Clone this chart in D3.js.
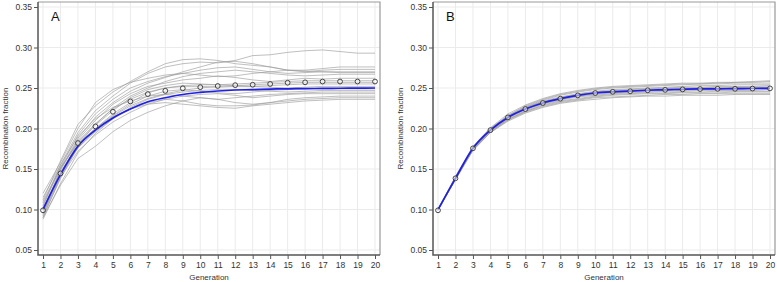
<!DOCTYPE html>
<html>
<head>
<meta charset="utf-8">
<script src="https://cdn.jsdelivr.net/npm/d3@7"></script>
<style>
  body { margin: 0; background: #fff; }
  svg { display: block; font-family: "Liberation Sans", Arial, sans-serif; }
</style>
</head>
<body>
<div id="chart"></div>
<script>
const generations = d3.range(1, 21);
const yTicks = [0.05, 0.10, 0.15, 0.20, 0.25, 0.30, 0.35];

// panel A: simulated replicates (grey), observed mean (circles), expected (blue)
const simA = [
  [0.105, 0.155, 0.195, 0.222, 0.240, 0.256, 0.268, 0.276, 0.280, 0.282, 0.281, 0.284, 0.290, 0.291, 0.294, 0.296, 0.297, 0.295, 0.293, 0.293],
  [0.112, 0.160, 0.205, 0.228, 0.245, 0.258, 0.270, 0.280, 0.285, 0.286, 0.284, 0.280, 0.278, 0.276, 0.272, 0.272, 0.274, 0.276, 0.276, 0.276],
  [0.095, 0.150, 0.188, 0.214, 0.232, 0.246, 0.256, 0.263, 0.270, 0.276, 0.282, 0.283, 0.280, 0.276, 0.272, 0.270, 0.272, 0.273, 0.273, 0.273],
  [0.120, 0.158, 0.200, 0.232, 0.248, 0.257, 0.262, 0.266, 0.268, 0.266, 0.264, 0.265, 0.268, 0.270, 0.272, 0.271, 0.270, 0.269, 0.269, 0.269],
  [0.090, 0.140, 0.180, 0.205, 0.225, 0.240, 0.250, 0.258, 0.264, 0.268, 0.270, 0.272, 0.270, 0.268, 0.266, 0.265, 0.266, 0.267, 0.267, 0.267],
  [0.100, 0.148, 0.186, 0.210, 0.230, 0.243, 0.252, 0.256, 0.260, 0.262, 0.265, 0.263, 0.260, 0.258, 0.260, 0.262, 0.261, 0.262, 0.262, 0.262],
  [0.098, 0.144, 0.183, 0.204, 0.222, 0.238, 0.248, 0.253, 0.256, 0.255, 0.254, 0.255, 0.256, 0.257, 0.258, 0.259, 0.259, 0.259, 0.259, 0.259],
  [0.092, 0.138, 0.178, 0.200, 0.218, 0.232, 0.244, 0.250, 0.253, 0.254, 0.254, 0.253, 0.254, 0.255, 0.256, 0.257, 0.257, 0.257, 0.257, 0.257],
  [0.108, 0.150, 0.184, 0.206, 0.224, 0.236, 0.245, 0.250, 0.252, 0.252, 0.251, 0.252, 0.252, 0.253, 0.254, 0.255, 0.255, 0.255, 0.255, 0.255],
  [0.094, 0.142, 0.176, 0.198, 0.215, 0.228, 0.237, 0.243, 0.247, 0.250, 0.252, 0.253, 0.252, 0.251, 0.250, 0.251, 0.252, 0.252, 0.252, 0.252],
  [0.100, 0.146, 0.180, 0.200, 0.216, 0.230, 0.240, 0.246, 0.248, 0.246, 0.244, 0.243, 0.245, 0.247, 0.248, 0.249, 0.249, 0.249, 0.249, 0.249],
  [0.088, 0.132, 0.170, 0.194, 0.212, 0.226, 0.236, 0.242, 0.245, 0.247, 0.248, 0.248, 0.247, 0.246, 0.245, 0.246, 0.247, 0.247, 0.247, 0.247],
  [0.115, 0.155, 0.190, 0.212, 0.226, 0.234, 0.240, 0.242, 0.240, 0.238, 0.236, 0.238, 0.240, 0.242, 0.243, 0.244, 0.245, 0.245, 0.245, 0.245],
  [0.096, 0.140, 0.172, 0.192, 0.208, 0.220, 0.230, 0.236, 0.240, 0.242, 0.243, 0.241, 0.238, 0.240, 0.242, 0.243, 0.243, 0.243, 0.243, 0.243],
  [0.102, 0.145, 0.176, 0.196, 0.212, 0.224, 0.232, 0.236, 0.234, 0.230, 0.228, 0.228, 0.229, 0.232, 0.236, 0.238, 0.239, 0.240, 0.240, 0.240],
  [0.090, 0.130, 0.163, 0.178, 0.196, 0.210, 0.220, 0.228, 0.234, 0.238, 0.236, 0.232, 0.230, 0.232, 0.234, 0.236, 0.237, 0.238, 0.238, 0.238],
  [0.110, 0.152, 0.182, 0.200, 0.214, 0.224, 0.230, 0.232, 0.230, 0.228, 0.226, 0.225, 0.228, 0.230, 0.232, 0.234, 0.235, 0.236, 0.236, 0.236],
  [0.104, 0.152, 0.192, 0.218, 0.236, 0.250, 0.258, 0.264, 0.268, 0.272, 0.275, 0.276, 0.273, 0.270, 0.268, 0.269, 0.270, 0.270, 0.270, 0.270]
];
const meanA = [0.099, 0.1445, 0.182, 0.2026, 0.2207, 0.2335, 0.2425, 0.2465, 0.2496, 0.251, 0.2525, 0.2535, 0.254, 0.255, 0.2565, 0.257, 0.258, 0.258, 0.258, 0.258];
const expectedA = [0.100, 0.143, 0.178, 0.198, 0.213, 0.224, 0.233, 0.238, 0.242, 0.2445, 0.2463, 0.2475, 0.248, 0.2487, 0.249, 0.2493, 0.2495, 0.2497, 0.2498, 0.250];

// panel B
const simB = [
  [0.100, 0.141, 0.178, 0.201, 0.218, 0.229, 0.237, 0.243, 0.247, 0.250, 0.252, 0.253, 0.254, 0.255, 0.256, 0.256, 0.257, 0.257, 0.257, 0.258],
  [0.099, 0.140, 0.177, 0.200, 0.216, 0.227, 0.235, 0.241, 0.245, 0.248, 0.250, 0.251, 0.252, 0.253, 0.254, 0.255, 0.255, 0.256, 0.256, 0.256],
  [0.100, 0.139, 0.176, 0.199, 0.215, 0.226, 0.234, 0.239, 0.243, 0.246, 0.248, 0.249, 0.250, 0.251, 0.252, 0.253, 0.253, 0.254, 0.254, 0.254],
  [0.099, 0.139, 0.176, 0.198, 0.214, 0.225, 0.233, 0.238, 0.242, 0.245, 0.247, 0.248, 0.249, 0.250, 0.251, 0.251, 0.252, 0.252, 0.252, 0.253],
  [0.100, 0.138, 0.175, 0.198, 0.214, 0.224, 0.232, 0.237, 0.241, 0.244, 0.246, 0.247, 0.248, 0.249, 0.250, 0.250, 0.251, 0.251, 0.251, 0.251],
  [0.099, 0.138, 0.175, 0.197, 0.213, 0.223, 0.231, 0.236, 0.240, 0.243, 0.245, 0.246, 0.247, 0.248, 0.248, 0.249, 0.249, 0.250, 0.250, 0.250],
  [0.100, 0.139, 0.176, 0.198, 0.213, 0.224, 0.231, 0.236, 0.240, 0.242, 0.244, 0.245, 0.246, 0.247, 0.247, 0.248, 0.248, 0.248, 0.249, 0.249],
  [0.099, 0.138, 0.175, 0.197, 0.212, 0.222, 0.230, 0.235, 0.239, 0.241, 0.243, 0.244, 0.245, 0.246, 0.246, 0.247, 0.247, 0.247, 0.247, 0.248],
  [0.100, 0.138, 0.174, 0.196, 0.211, 0.221, 0.229, 0.234, 0.237, 0.240, 0.242, 0.243, 0.244, 0.244, 0.245, 0.245, 0.246, 0.246, 0.246, 0.246],
  [0.099, 0.137, 0.174, 0.196, 0.211, 0.221, 0.228, 0.233, 0.236, 0.239, 0.241, 0.242, 0.243, 0.243, 0.244, 0.244, 0.244, 0.245, 0.245, 0.245],
  [0.100, 0.137, 0.173, 0.195, 0.210, 0.220, 0.227, 0.232, 0.235, 0.238, 0.239, 0.240, 0.241, 0.242, 0.242, 0.243, 0.243, 0.243, 0.243, 0.243],
  [0.099, 0.137, 0.173, 0.195, 0.209, 0.219, 0.226, 0.231, 0.234, 0.236, 0.238, 0.239, 0.240, 0.240, 0.241, 0.241, 0.241, 0.242, 0.242, 0.242],
  [0.100, 0.140, 0.177, 0.200, 0.216, 0.228, 0.236, 0.242, 0.246, 0.249, 0.251, 0.252, 0.253, 0.254, 0.255, 0.255, 0.256, 0.257, 0.258, 0.259],
  [0.099, 0.139, 0.176, 0.199, 0.215, 0.226, 0.233, 0.238, 0.242, 0.245, 0.246, 0.247, 0.248, 0.249, 0.249, 0.250, 0.250, 0.251, 0.251, 0.251]
];
const meanB = [0.099, 0.1385, 0.1755, 0.198, 0.2137, 0.224, 0.2315, 0.2368, 0.2409, 0.2438, 0.2453, 0.246, 0.2472, 0.2477, 0.2483, 0.2487, 0.249, 0.249, 0.2493, 0.2495];
const expectedB = [0.100, 0.1385, 0.1755, 0.198, 0.2137, 0.224, 0.2315, 0.2368, 0.2409, 0.2438, 0.2453, 0.2462, 0.2472, 0.2478, 0.2484, 0.2488, 0.249, 0.2492, 0.2494, 0.2495];

const W = 777, H = 282;
const svg = d3.select("#chart").append("svg")
  .attr("width", W)
  .attr("height", H);

function drawPanel(left, label, sims, mean, expected) {
  // frame edges
  const fx0 = left, fx1 = left + 342, fy0 = 2, fy1 = 255;
  let x = d3.scaleLinear().domain([1, 20]).range([left + 5, left + 337]);
  let y = d3.scaleLinear().domain([0.05, 0.35]).range([250, 7]);
  let g = svg.append("g");

  // grid
  g.append("g").selectAll("line")
    .data(generations)
    .join("line")
    .attr("x1", d => x(d)).attr("x2", d => x(d))
    .attr("y1", fy0).attr("y2", fy1)
    .attr("stroke", "#ebebeb");
  g.append("g").selectAll("line")
    .data(yTicks)
    .join("line")
    .attr("x1", fx0).attr("x2", fx1)
    .attr("y1", d => y(d)).attr("y2", d => y(d))
    .attr("stroke", "#ebebeb");

  // top / right frame
  g.append("path")
    .attr("d", `M${fx0},${fy0}H${fx1}V${fy1}`)
    .attr("fill", "none")
    .attr("stroke", "#9a9a9a")
    .attr("stroke-width", 1.2);

  let line = d3.line().x((d, i) => x(generations[i])).y(d => y(d));

  g.append("g").selectAll("path")
    .data(sims)
    .join("path")
    .attr("d", line)
    .attr("fill", "none")
    .attr("stroke", "#999")
    .attr("stroke-opacity", 0.7)
    .attr("stroke-width", 0.9);

  g.append("path")
    .datum(expected)
    .attr("d", line.curve(d3.curveMonotoneX))
    .attr("fill", "none")
    .attr("stroke", "#1f1fe6")
    .attr("stroke-width", 1.7);

  g.append("g").selectAll("circle")
    .data(mean)
    .join("circle")
    .attr("cx", (d, i) => x(generations[i]))
    .attr("cy", d => y(d))
    .attr("r", 2.4)
    .attr("fill", "#fff")
    .attr("fill-opacity", 0.5)
    .attr("stroke", "#333")
    .attr("stroke-width", 0.9);

  // axes
  let yAxis = g.append("g")
    .attr("transform", `translate(${fx0},0)`)
    .call(d3.axisLeft(y).tickValues(yTicks).tickFormat(d3.format(".2f")).tickSize(4).tickPadding(2));
  let xAxis = g.append("g")
    .attr("transform", `translate(0,${fy1})`)
    .call(d3.axisBottom(x).tickValues(generations).tickFormat(d3.format("d")).tickSize(4).tickPadding(3));
  [yAxis, xAxis].forEach(a => {
    a.select(".domain").remove();
    a.selectAll("line").attr("stroke", "#555");
    a.selectAll("text").attr("fill", "#333").attr("font-size", "8.5px")
      .attr("font-family", "Liberation Sans, Arial, sans-serif");
  });

  g.append("path")
    .attr("d", `M${fx0},${fy0}V${fy1}H${fx1}`)
    .attr("fill", "none")
    .attr("stroke", "#555")
    .attr("stroke-width", 1.5);

  // titles
  g.append("text")
    .attr("x", (fx0 + fx1) / 2)
    .attr("y", 280)
    .attr("text-anchor", "middle")
    .attr("font-size", "8px")
    .attr("fill", "#333")
    .text("Generation");
  g.append("text")
    .attr("transform", `translate(${left - 30},${(fy0 + fy1) / 2}) rotate(-90)`)
    .attr("text-anchor", "middle")
    .attr("font-size", "8px")
    .attr("fill", "#333")
    .text("Recombination fraction");
  g.append("text")
    .attr("x", left + 13)
    .attr("y", 21)
    .attr("font-size", "13px")
    .attr("fill", "#111")
    .text(label);
}

drawPanel(38, "A", simA, meanA, expectedA);
drawPanel(433, "B", simB, meanB, expectedB);
</script>
</body>
</html>
